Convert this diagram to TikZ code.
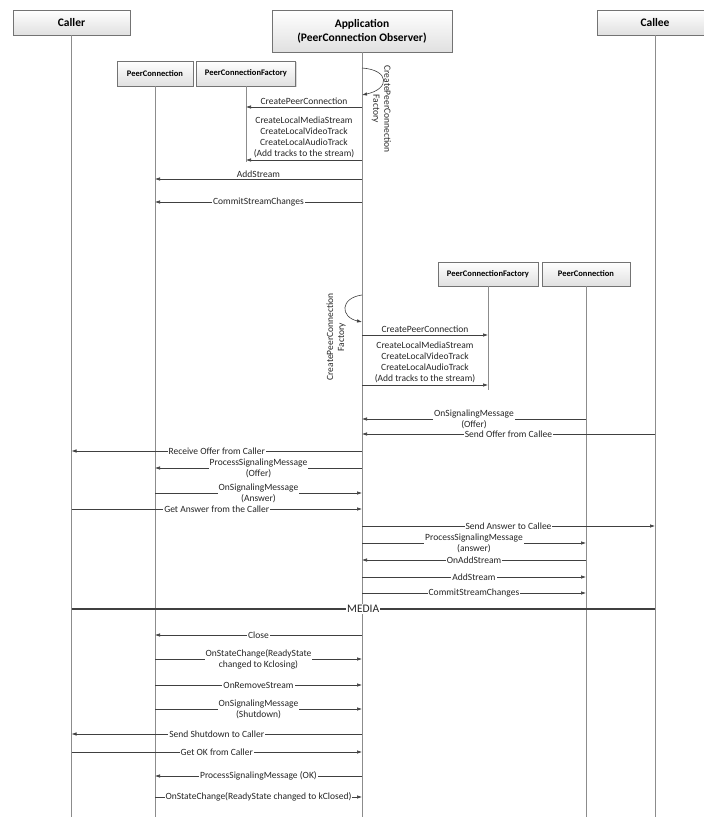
\documentclass[tikz,border=0pt]{standalone}
\usepackage{fontspec}
\setmainfont{Carlito}
\usetikzlibrary{arrows.meta,positioning,shadows}

\begin{document}
\begin{tikzpicture}[x=1pt,y=-1pt,>={Latex[length=5pt,width=3.5pt]},
  head/.style={draw=black!55,top color=white,bottom color=black!12,align=center,inner sep=0pt,
    drop shadow={shadow xshift=1.2pt,shadow yshift=-1.2pt,opacity=.3},font=\bfseries\fontsize{11.5}{14}\selectfont},
  obj/.style={head,font=\bfseries\fontsize{8.5}{10}\selectfont},
  life/.style={draw=black!45,line width=.8pt},
  msg/.style={->,draw=black!75,line width=.6pt},
  lbl/.style={fill=white,inner sep=1pt,align=center,text=black!85,font=\fontsize{9.5}{11}\selectfont},
  tag/.style={lbl,fill=none,above=1pt},
  media/.style={draw=black!75,line width=2.5pt}]
\useasboundingbox (0,0) rectangle (704,817);

% heads
\node[head,minimum width=117pt,minimum height=25pt] (caller) at (71.5,22.5) {Caller};
\node[head,minimum width=180pt,minimum height=42pt] (app) at (362,31) {Application\\(PeerConnection Observer)};
\node[head,minimum width=116pt,minimum height=25pt] (callee) at (655,22.5) {Callee};
\node[obj,minimum width=76pt,minimum height=25pt] (pc) at (155,73.5) {PeerConnection};
\node[obj,minimum width=99pt,minimum height=25pt] (pcf) at (246,73.5) {PeerConnectionFactory};
\node[obj,minimum width=100pt,minimum height=24pt] (pcf2) at (488,274) {PeerConnectionFactory};
\node[obj,minimum width=88pt,minimum height=24pt] (pc2) at (586,274) {PeerConnection};

% lifelines
\draw[life] (caller.south) -- (caller.south |- 0,817);
\draw[life] (app.south) -- (app.south |- 0,817);
\draw[life] (callee.south) -- (callee.south |- 0,817);
\draw[life] (pc.south) -- (pc.south |- 0,817);
\draw[life] (pcf.south) -- (pcf.south |- 0,162);
\draw[life] (pcf2.south) -- (pcf2.south |- 0,390);
\draw[life] (pc2.south) -- (pc2.south |- 0,817);

% caller side setup
\draw[msg] (app |- 0,68) .. controls +(28,2) and +(28,-6) .. (app |- 0,95);
\node[lbl,fill=none,rotate=-90] (loopA) at (381.5,109) {CreatePeerConnection\\Factory};
\draw[msg] (app |- 0,107) -- node[tag]{CreatePeerConnection} (pcf |- 0,107);
\draw[msg] (app |- 0,160) -- node[tag]{CreateLocalMediaStream\\CreateLocalVideoTrack\\CreateLocalAudioTrack\\(Add tracks to the stream)} (pcf |- 0,160);
\draw[msg] (app |- 0,179) -- node[lbl,yshift=5pt]{AddStream} (pc |- 0,179);
\draw[msg] (app |- 0,202) -- node[lbl]{CommitStreamChanges} (pc |- 0,202);

% callee side setup
\draw[msg] (app |- 0,295) .. controls +(-22,3) and +(-22,-5) .. (app |- 0,322);
\node[lbl,fill=none,rotate=90] (loopB) at (336,337) {CreatePeerConnection\\Factory};
\draw[msg] (app |- 0,335) -- node[tag]{CreatePeerConnection} (pcf2 |- 0,335);
\draw[msg] (app |- 0,385) -- node[tag]{CreateLocalMediaStream\\CreateLocalVideoTrack\\CreateLocalAudioTrack\\(Add tracks to the stream)} (pcf2 |- 0,385);

% offer / answer
\draw[msg] (pc2 |- 0,419) -- node[lbl]{OnSignalingMessage\\(Offer)} (app |- 0,419);
\draw[msg] (callee |- 0,434) -- node[lbl]{Send Offer from Callee} (app |- 0,434);
\draw[msg] (app |- 0,451) -- node[lbl]{Receive Offer from Caller} (caller |- 0,451);
\draw[msg] (app |- 0,468) -- node[lbl]{ProcessSignalingMessage\\(Offer)} (pc |- 0,468);
\draw[msg] (pc |- 0,493) -- node[lbl]{OnSignalingMessage\\(Answer)} (app |- 0,493);
\draw[msg] (caller |- 0,509) -- node[lbl]{Get Answer from the Caller} (app |- 0,509);
\draw[msg] (app |- 0,526) -- node[lbl]{Send Answer to Callee} (callee |- 0,526);
\draw[msg] (app |- 0,543) -- node[lbl]{ProcessSignalingMessage\\(answer)} (pc2 |- 0,543);
\draw[msg] (pc2 |- 0,560) -- node[lbl]{OnAddStream} (app |- 0,560);
\draw[msg] (app |- 0,577) -- node[lbl]{AddStream} (pc2 |- 0,577);
\draw[msg] (app |- 0,593) -- node[lbl]{CommitStreamChanges} (pc2 |- 0,593);

% media
\draw[media] (caller |- 0,609) -- node[lbl,font=\fontsize{11.5}{13}\selectfont]{MEDIA} (callee |- 0,609);

% teardown
\draw[msg] (app |- 0,635) -- node[lbl]{Close} (pc |- 0,635);
\draw[msg] (pc |- 0,659) -- node[lbl]{OnStateChange(ReadyState\\changed to Kclosing)} (app |- 0,659);
\draw[msg] (pc |- 0,685) -- node[lbl]{OnRemoveStream} (app |- 0,685);
\draw[msg] (pc |- 0,709) -- node[lbl]{OnSignalingMessage\\(Shutdown)} (app |- 0,709);
\draw[msg] (app |- 0,734) -- node[lbl]{Send Shutdown to Caller} (caller |- 0,734);
\draw[msg] (caller |- 0,752) -- node[lbl]{Get OK from Caller} (app |- 0,752);
\draw[msg] (app |- 0,776) -- node[lbl]{ProcessSignalingMessage (OK)} (pc |- 0,776);
\draw[msg] (pc |- 0,797) -- node[lbl]{OnStateChange(ReadyState changed to kClosed)} (app |- 0,797);

\end{tikzpicture}
\end{document}
